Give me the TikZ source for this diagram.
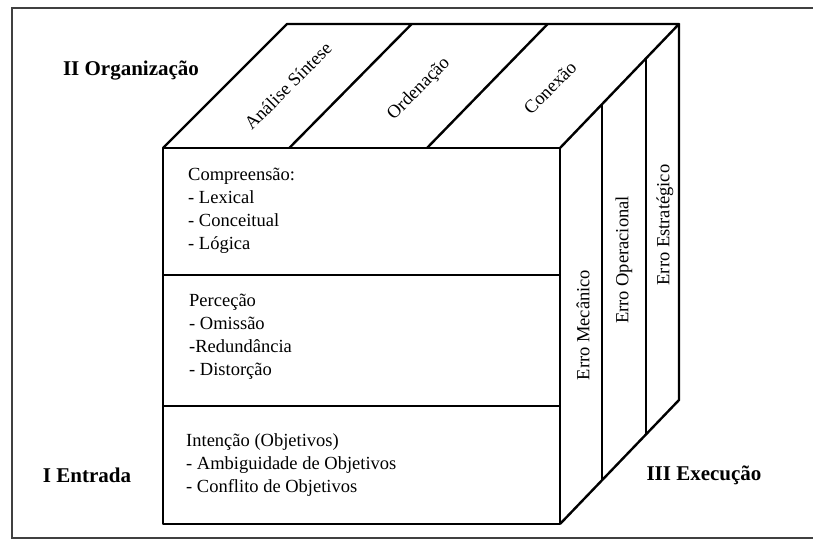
\documentclass[tikz,border=0pt]{standalone}
\usepackage{fontspec}
\setmainfont{Liberation Serif}
\usetikzlibrary{calc}

\begin{document}
\begin{tikzpicture}[x=1pt,y=-1pt,
  aresta/.style={line width=2.4pt, line join=round},
  texto/.style={font=\fontsize{18.5}{23}\selectfont, inner sep=0pt},
  titulo/.style={font=\fontsize{21}{24}\selectfont\bfseries, inner sep=0pt}]
  % Moldura
  \useasboundingbox (0,0) rectangle (813,541);
  \draw[black!75, line width=1.8pt] (813,8) -- (12,8) -- (12,538) -- (813,538);

  % Cantos do cubo
  \coordinate (fa) at (163,148);
  \coordinate (fb) at (560,148);
  \coordinate (fc) at (560,524);
  \coordinate (fd) at (163,524);
  \coordinate (ta) at (287,24);
  \coordinate (tb) at (679,24);
  \coordinate (tc) at (679,400);

  % Arestas
  \draw[aresta] (fa) rectangle (fc);
  \draw[aresta] (fa) -- (ta) -- (tb) -- (fb);
  \draw[aresta] (tb) -- (tc) -- (fc);

  % Divisões (frente, topo, lado)
  \foreach \f in {0.338,0.686}
    \draw[aresta] ($(fa)!\f!(fd)$) -- ($(fb)!\f!(fc)$);
  \foreach \f in {0.318,0.665}
    \draw[aresta] ($(fa)!\f!(fb)$) -- ($(ta)!\f!(tb)$);
  \foreach \f in {0.355,0.725}
    \draw[aresta] ($(fb)!\f!(tb)$) -- ($(fc)!\f!(tc)$);

  % Face da frente: I Entrada
  \node[texto, anchor=west, align=left] (compreensao) at (188,211) {Compreensão:\\- Lexical\\- Conceitual\\- Lógica};
  \node[texto, anchor=west, align=left] (percecao) at (189,337) {Perceção\\- Omissão\\-Redundância\\- Distorção};
  \node[texto, anchor=west, align=left] (intencao) at (186,465) {Intenção (Objetivos)\\- Ambiguidade de Objetivos\\- Conflito de Objetivos};

  % Face de cima: II Organização
  \foreach \nome/\pos/\txt in {analise/{288,86}/Análise Síntese,
                               ordenacao/{419,89}/Ordenação,
                               conexao/{550,88}/Conexão}
    \node[texto, rotate=45] (\nome) at (\pos) {\txt};

  % Face do lado: III Execução
  \foreach \nome/\pos/\txt in {mecanico/{583,325}/Erro Mecânico,
                               operacional/{624,260}/Erro Operacional,
                               estrategico/{665,225}/Erro Estratégico}
    \node[texto, rotate=90] (\nome) at (\pos) {\txt};

  % Títulos
  \node[titulo] (organizacao) at (131,70) {II Organização};
  \node[titulo] (entrada) at (87,475) {I Entrada};
  \node[titulo] (execucao) at (704,475) {III Execução};
\end{tikzpicture}
\end{document}
